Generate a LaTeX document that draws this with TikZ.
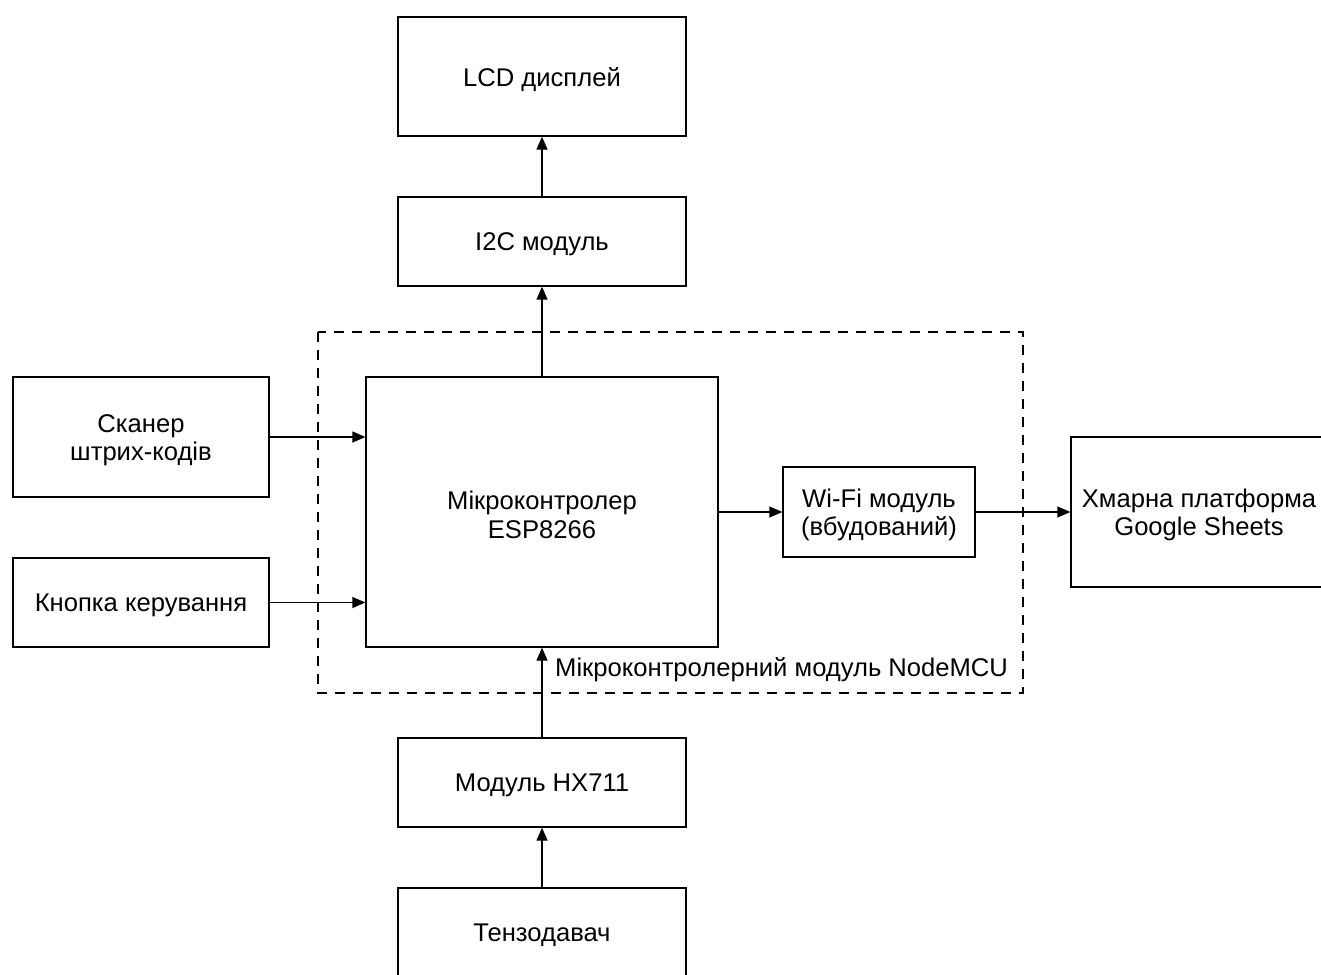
\documentclass[tikz,border=0pt]{standalone}
\usepackage{fontspec}
\setmainfont{Liberation Sans}
\usetikzlibrary{arrows.meta,calc}
\begin{document}
\begin{tikzpicture}[x=1pt,y=-1pt,
  blk/.style={draw,line width=1.3pt,inner sep=0pt},
  txt/.style={inner sep=0pt,align=center,font=\fontsize{25.6}{28.5}\selectfont,yshift=-3pt},
  arr/.style={line width=1.3pt,-{Triangle[length=13pt,width=11pt]}},
  grp/.style={draw,line width=1.1pt,dash pattern=on 10pt off 8pt}]
\useasboundingbox (0,0) rectangle (1321,974);
\clip (0,0) rectangle (1321,974);
\fill[white] (0,0) rectangle (1321,974);
\draw[grp] (318,332) rectangle (1023,693);
\node[blk,minimum width=288pt,minimum height=119pt,label={[txt]center:LCD дисплей}] (lcd) at (542,76.5) {};
\node[blk,minimum width=288pt,minimum height=89pt,label={[txt]center:I2C модуль}] (i2c) at (542,241.5) {};
\node[blk,minimum width=352pt,minimum height=270pt,label={[txt]center:Мікроконтролер\\ESP8266}] (mcu) at (542,512) {};
\node[blk,minimum width=256pt,minimum height=120pt,label={[txt]center:Сканер\\штрих-кодів}] (scan) at (141,437) {};
\node[blk,minimum width=256pt,minimum height=89pt,label={[txt]center:Кнопка керування}] (btn) at (141,602.5) {};
\node[blk,minimum width=192pt,minimum height=90pt,label={[txt]center:Wi-Fi модуль\\(вбудований)}] (wifi) at (879,512) {};
\node[blk,minimum width=256pt,minimum height=150pt,label={[txt]center:Хмарна платформа\\Google Sheets}] (cloud) at (1199,512) {};
\node[blk,minimum width=288pt,minimum height=89pt,label={[txt]center:Модуль HX711}] (hx) at (542,782.5) {};
\node[blk,minimum width=288pt,minimum height=89pt,label={[txt]center:Тензодавач}] (tenzo) at (542,932.5) {};
\node[txt,anchor=west,yshift=3pt] (lbl) at (555,670) {Мікроконтролерний модуль NodeMCU};
\draw[arr] (scan.east) -- (scan.east -| mcu.west);
\draw[arr] (btn.east) -- (btn.east -| mcu.west);
\draw[arr] (mcu.east) -- (wifi.west);
\draw[arr] (wifi.east) -- (cloud.west);
\draw[arr] (mcu.north) -- (i2c.south);
\draw[arr] (i2c.north) -- (lcd.south);
\draw[arr] (hx.north) -- (mcu.south);
\draw[arr] (tenzo.north) -- (hx.south);
\end{tikzpicture}
\end{document}
